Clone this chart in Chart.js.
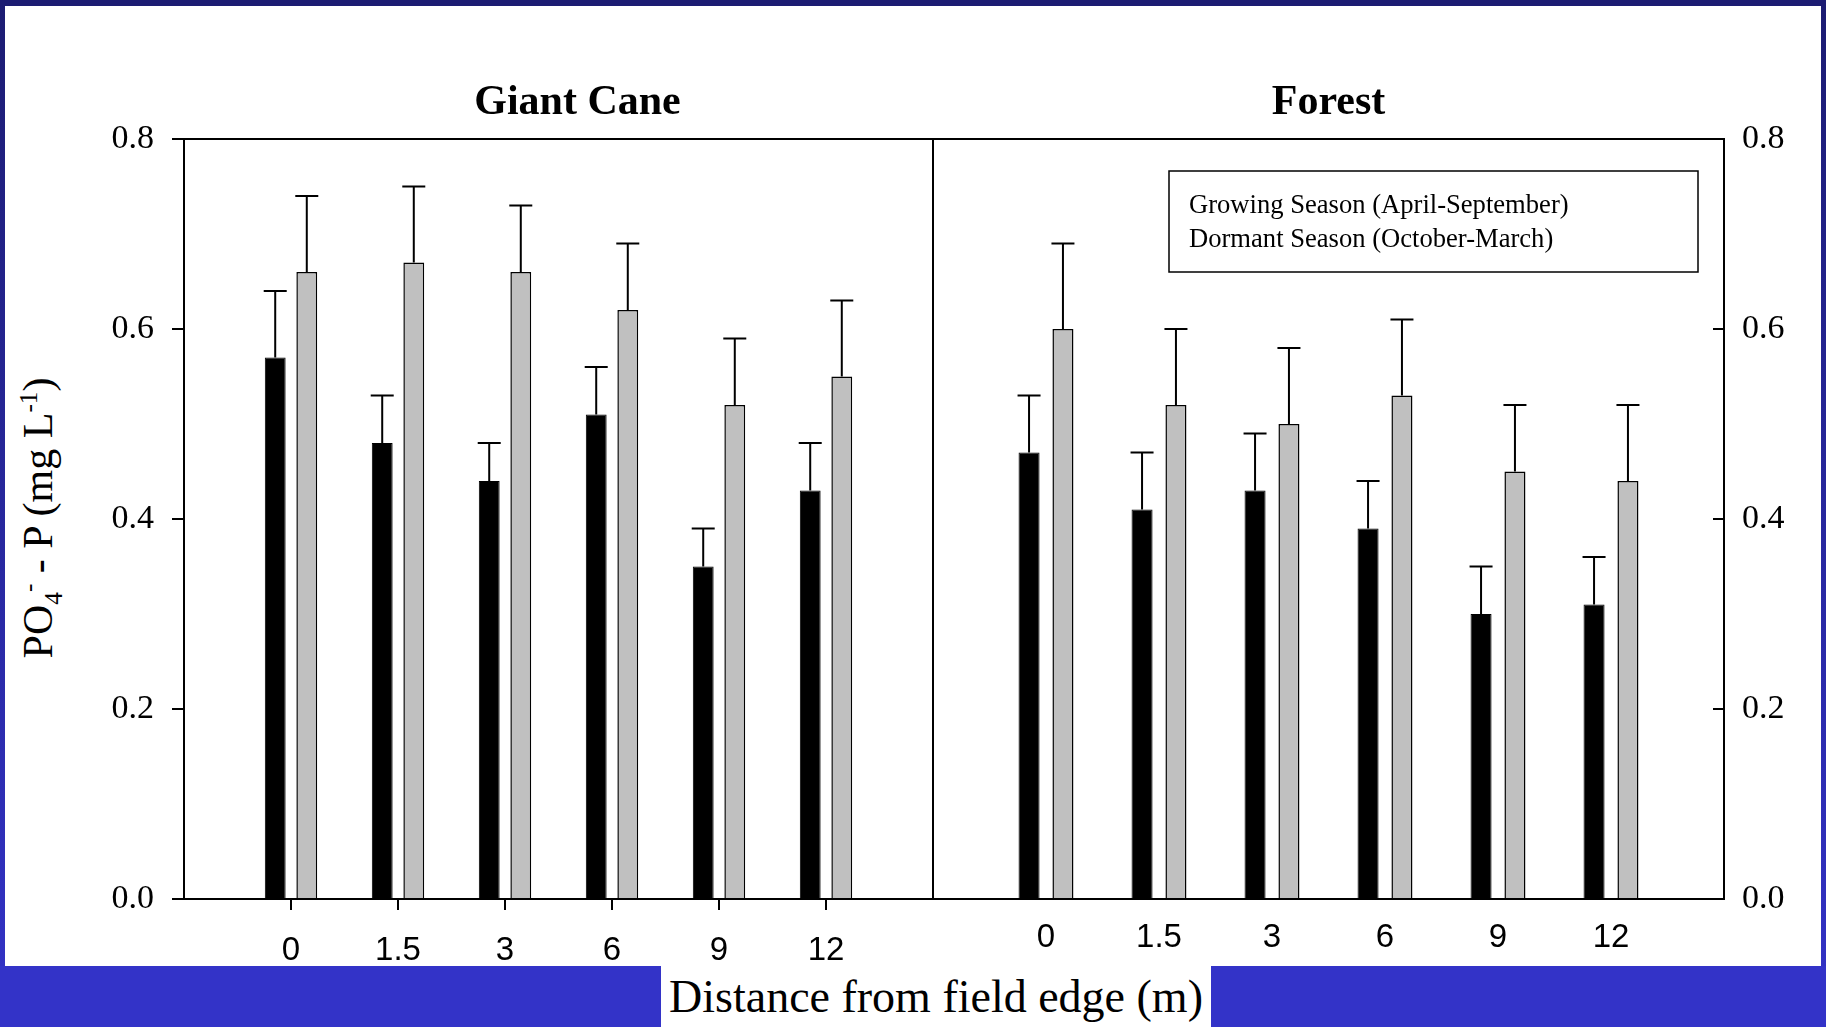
<!DOCTYPE html>
<html>
<head>
<meta charset="utf-8">
<script src="https://cdn.jsdelivr.net/npm/chart.js@4.4.0/dist/chart.umd.min.js"></script>
<style>
html, body { margin: 0; padding: 0; }
body { width: 1826px; height: 1027px; position: relative; overflow: hidden; background: #fff; font-family: "Liberation Serif", serif; color: #000; }
#frameTop { position: absolute; left: 0; top: 0; width: 1826px; height: 6px; background: #1c1c72; }
#frameLeft { position: absolute; left: 0; top: 0; width: 5px; height: 1027px; background: linear-gradient(#1c1c72, #3333c8); }
#frameRight { position: absolute; right: 0; top: 0; width: 5px; height: 1027px; background: linear-gradient(#1c1c72, #3333c8); }
#band { position: absolute; left: 0; top: 966px; width: 1826px; height: 61px; background: #3333c8; }
#xTitle { position: absolute; left: 661px; top: 966px; width: 550px; height: 61px; background: #fff; text-align: center; font-size: 46px; line-height: 61px; white-space: nowrap; }
#yTitle { position: absolute; left: 41px; top: 518px; transform: translate(-50%, -50%) rotate(-90deg); white-space: nowrap; font-size: 42px; }
#yTitle sub, #yTitle sup { font-size: 60%; }
#cane { position: absolute; left: 0; top: 0; }
#forest { position: absolute; left: 925px; top: 0; }
</style>
</head>
<body>
<div id="frameTop"></div>
<div id="frameLeft"></div>
<div id="frameRight"></div>
<div id="band"></div>
<div id="xTitle">Distance from field edge (m)</div>
<div id="yTitle">PO<sub>4</sub><sup>-</sup> - P (mg L<sup>-1</sup>)</div>
<canvas id="cane" width="940" height="966"></canvas>
<canvas id="forest" width="901" height="966"></canvas>
<script>
// data (mean and upper standard error)
const distances = ['0', '1.5', '3', '6', '9', '12'];
const seasons = ['Growing Season (April-September)', 'Dormant Season (October-March)'];
const yTicks = [0, 0.2, 0.4, 0.6, 0.8];

const caneGrowing = [0.57, 0.48, 0.44, 0.51, 0.35, 0.43];
const caneGrowingErr = [0.07, 0.05, 0.04, 0.05, 0.04, 0.05];
const caneDormant = [0.66, 0.67, 0.66, 0.62, 0.52, 0.55];
const caneDormantErr = [0.08, 0.08, 0.07, 0.07, 0.07, 0.08];

const forestGrowing = [0.47, 0.41, 0.43, 0.39, 0.30, 0.31];
const forestGrowingErr = [0.06, 0.06, 0.06, 0.05, 0.05, 0.05];
const forestDormant = [0.60, 0.52, 0.50, 0.53, 0.45, 0.44];
const forestDormantErr = [0.09, 0.08, 0.08, 0.08, 0.07, 0.08];

Chart.defaults.color = '#000';
Chart.defaults.animation = false;

// upper error bars with a cap
const errorBars = {
  id: 'errorBars',
  afterDatasetsDraw(chart, args, opts) {
    let ctx = chart.ctx;
    let y = chart.scales.y;
    ctx.save();
    ctx.strokeStyle = '#000';
    ctx.lineWidth = 2;
    chart.data.datasets.forEach((ds, di) => {
      chart.getDatasetMeta(di).data.forEach((bar, i) => {
        let top = y.getPixelForValue(ds.data[i].y + ds.errors[i]);
        ctx.beginPath();
        ctx.moveTo(bar.x, bar.y);
        ctx.lineTo(bar.x, top);
        ctx.moveTo(bar.x - opts.cap / 2, top);
        ctx.lineTo(bar.x + opts.cap / 2, top);
        ctx.stroke();
      });
    });
    ctx.restore();
  }
};

// box round the plot area, panel title, inward ticks, text legend
const panelDecor = {
  id: 'panelDecor',
  afterDraw(chart, args, opts) {
    let ctx = chart.ctx;
    let a = chart.chartArea;
    ctx.save();
    ctx.strokeStyle = '#000';
    ctx.lineWidth = 2;
    ctx.strokeRect(a.left, a.top, a.right - a.left, a.bottom - a.top);

    if (opts.inwardTicks) {
      let y = chart.scales.y;
      y.ticks.forEach(t => {
        let py = Math.round(y.getPixelForValue(t.value));
        ctx.beginPath();
        ctx.moveTo(a.right - 11, py);
        ctx.lineTo(a.right, py);
        ctx.stroke();
      });
    }

    ctx.fillStyle = '#000';
    ctx.font = 'bold 42px "Liberation Serif"';
    ctx.textAlign = 'center';
    ctx.textBaseline = 'middle';
    ctx.fillText(opts.title, (a.left + a.right) / 2 + opts.titleDx, 103.5);

    if (opts.legend) {
      let bx = a.right - 26 - 529, by = a.top + 32;
      ctx.lineWidth = 1.5;
      ctx.strokeRect(bx, by, 529, 101);
      ctx.font = '26.6px "Liberation Serif"';
      ctx.textAlign = 'left';
      chart.data.datasets.forEach((ds, i) => {
        ctx.fillText(ds.label, bx + 20, by + 35.5 + i * 33.5);
      });
    }
    ctx.restore();
  }
};

function puntos(values) {
  return values.map((v, i) => ({ x: i, y: v }));
}

function xScale(opts) {
  return {
    type: 'linear',
    min: -1,
    max: 6,
    offset: false,
    afterBuildTicks: s => { s.ticks = distances.map((d, i) => ({ value: i })); },
    afterFit: s => { s.height = 67; },
    ticks: {
      callback: v => distances[v],
      font: { family: 'Liberation Sans', size: 33 },
      padding: opts.padding,
      maxRotation: 0,
      autoSkip: false
    },
    grid: { offset: false, drawOnChartArea: false, drawTicks: opts.drawTicks, tickLength: 11, color: '#000', lineWidth: 2 },
    border: { display: true, color: '#000', width: 2 }
  };
}

function yScale(opts) {
  return {
    position: opts.position,
    min: 0,
    max: 0.8,
    afterBuildTicks: s => { s.ticks = yTicks.map(v => ({ value: v })); },
    afterFit: s => { s.width = opts.width; },
    ticks: {
      callback: v => v.toFixed(1),
      font: { family: 'Liberation Serif', size: 34 },
      padding: opts.padding
    },
    grid: { drawOnChartArea: false, drawTicks: opts.drawTicks, tickLength: 12, color: '#000', lineWidth: 2 },
    border: { display: true, color: '#000', width: 2 }
  };
}

function datasets(growing, growingErr, dormant, dormantErr, cp, bp) {
  return [{
    label: seasons[0],
    data: puntos(growing),
    errors: growingErr,
    backgroundColor: '#000000',
    borderColor: '#000000',
    borderWidth: 1,
    categoryPercentage: cp,
    barPercentage: bp
  }, {
    label: seasons[1],
    data: puntos(dormant),
    errors: dormantErr,
    backgroundColor: '#c0c0c0',
    borderColor: '#000000',
    borderWidth: 1.5,
    categoryPercentage: cp,
    barPercentage: bp
  }];
}

grafico_cane();
grafico_forest();

function grafico_cane() {
  let ctx = document.getElementById('cane').getContext('2d');
  new Chart(ctx, {
    type: 'bar',
    data: { datasets: datasets(caneGrowing, caneGrowingErr, caneDormant, caneDormantErr, 0.59, 0.66) },
    options: {
      responsive: false,
      layout: { padding: { left: 0, right: 7, top: 139, bottom: 0 } },
      scales: {
        x: xScale({ padding: 21, drawTicks: true }),
        y: yScale({ position: 'left', width: 184, padding: 18, drawTicks: true })
      },
      plugins: {
        legend: { display: false },
        tooltip: { enabled: false },
        errorBars: { cap: 23 },
        panelDecor: { title: 'Giant Cane', titleDx: 19 }
      }
    },
    plugins: [errorBars, panelDecor]
  });
}

function grafico_forest() {
  let ctx = document.getElementById('forest').getContext('2d');
  new Chart(ctx, {
    type: 'bar',
    data: { datasets: datasets(forestGrowing, forestGrowingErr, forestDormant, forestDormantErr, 0.6, 0.62) },
    options: {
      responsive: false,
      layout: { padding: { left: 8, right: 0, top: 139, bottom: 0 } },
      scales: {
        x: xScale({ padding: 19, drawTicks: false }),
        y: yScale({ position: 'right', width: 102, padding: 18, drawTicks: false })
      },
      plugins: {
        legend: { display: false },
        tooltip: { enabled: false },
        errorBars: { cap: 23 },
        panelDecor: { title: 'Forest', titleDx: 0, inwardTicks: true, legend: true }
      }
    },
    plugins: [errorBars, panelDecor]
  });
}
</script>
</body>
</html>
